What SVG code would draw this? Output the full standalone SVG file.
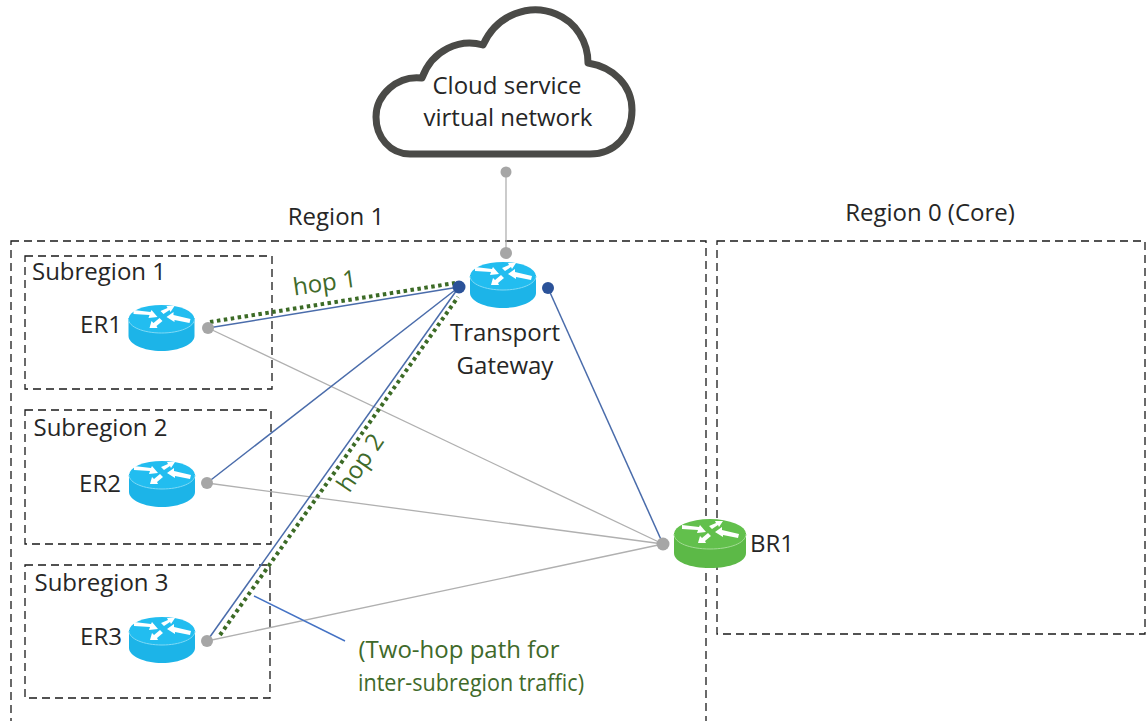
<svg xmlns="http://www.w3.org/2000/svg" width="1147" height="721" viewBox="0 0 1147 721">
<style>
text{font-family:"Open Sans","Noto Sans","Liberation Sans",sans-serif;font-size:24px;fill:#262626;text-anchor:middle}
.g{fill:#3f6a2a}
.box{fill:none;stroke:#1a1a1a;stroke-width:1.3;stroke-dasharray:8 5}
.gr{stroke:#b0b0b0;stroke-width:1.3;fill:none}
.bl{stroke:#4a6cab;stroke-width:1.5;fill:none}
.hop{stroke:#3c6b26;stroke-width:4;stroke-dasharray:3.5 3.500;fill:none}
.dg{fill:#a6a6a6}
.db{fill:#2b5299}
</style>
<defs>
<g id="arrows" fill="#fff">
<polygon points="-28,-9 -11,-7 -10,-9 -4,-2 -13,-1 -12,-4 -28,-5"/>
<polygon points="-1,-8 6,-11 5,-13 13,-13 9,-7 8,-9 2,-5"/>
<polygon points="5,-2 12,-7 12,-4 29,0 28,4 13,1 13,3"/>
<polygon points="-12,9 -10,2 -8,4 -2,-1 1,2 -5,7 -4,9"/>
</g>
<g id="router-blue">
<path d="M-33,13V31C-33,39 -18,46 0,46S33,39 33,31V13Z" fill="#1cb4e8"/>
<ellipse cx="0" cy="14" rx="33" ry="14" fill="#22bdf0"/>
<path d="M-33,14C-33,22 -18,28 0,28S33,22 33,14" fill="none" stroke="#7fd9f5" stroke-width="1"/>
<use href="#arrows" y="14"/>
</g>
<g id="router-green">
<path d="M-36,14V34C-36,43 -20,49 0,49S36,43 36,34V14Z" fill="#5cb947"/>
<ellipse cx="0" cy="15" rx="36" ry="15" fill="#62c04c"/>
<path d="M-36,15C-36,24 -20,30 0,30S36,24 36,15" fill="none" stroke="#a3dc94" stroke-width="1"/>
<use href="#arrows" y="15"/>
</g>
</defs>
<g id="regions">
<rect id="region-1" class="box" x="11" y="241" width="695" height="490"/>
<rect id="region-0" class="box" x="717" y="241" width="428" height="393"/>
<rect id="subregion-1" class="box" x="25" y="256" width="247" height="133"/>
<rect id="subregion-2" class="box" x="25" y="410" width="246" height="134"/>
<rect id="subregion-3" class="box" x="25" y="565" width="245" height="133"/>
<text x="336" y="225">Region 1</text>
<text x="930" y="221">Region 0 (Core)</text>
<text x="99" y="280">Subregion 1</text>
<text x="100.500" y="436">Subregion 2</text>
<text x="101.500" y="591">Subregion 3</text>
</g>
<g id="connectors">
<line class="gr" x1="506" y1="172" x2="506" y2="253"/>
<line class="gr" x1="208" y1="328" x2="663" y2="544"/>
<line class="gr" x1="207" y1="483" x2="663" y2="544"/>
<line class="gr" x1="207" y1="641" x2="663" y2="544"/>
<line class="bl" x1="208" y1="328" x2="459" y2="287"/>
<line class="bl" x1="207" y1="483" x2="459" y2="287"/>
<line class="bl" x1="207" y1="641" x2="459" y2="287"/>
<line class="bl" x1="548" y1="288" x2="663" y2="544"/>
<line class="hop" x1="210" y1="322" x2="455" y2="283"/>
<line class="hop" x1="220" y1="635" x2="458" y2="297"/>
<line x1="254" y1="596" x2="345" y2="641" stroke="#4472c4" stroke-width="1.4"/>
<circle class="dg" cx="506" cy="172" r="5.500"/>
<circle class="dg" cx="506" cy="253" r="6"/>
<circle class="dg" cx="208" cy="328" r="6"/>
<circle class="dg" cx="207" cy="483" r="6"/>
<circle class="dg" cx="207" cy="641" r="6"/>
<circle class="dg" cx="663" cy="544" r="6.500"/>
<circle class="db" cx="459" cy="287" r="6.500"/>
<circle class="db" cx="548" cy="288" r="6"/>
</g>
<g id="cloud">
<path d="M422,78C432,50 460,38 483,45C497,14 530,3 556,14C576,22 588,42 588,63C613,67 632,85 632,110C632,135 615,154 590,154H410C390,154 376,137 376,117C376,95 397,75 422,78Z" fill="#fff" stroke="#4a4a47" stroke-width="7" stroke-linejoin="round"/>
<text x="507" y="94">Cloud service</text>
<text x="508" y="126">virtual network</text>
</g>
<g id="er1"><use href="#router-blue" x="161.500" y="305"/><text x="101" y="333">ER1</text></g>
<g id="er2"><use href="#router-blue" x="162" y="461"/><text x="100" y="492">ER2</text></g>
<g id="er3"><use href="#router-blue" x="162" y="617"/><text x="101" y="645">ER3</text></g>
<g id="transport-gateway"><use href="#router-blue" x="503" y="262"/><text x="505" y="341">Transport</text><text x="505" y="374">Gateway</text></g>
<g id="br1"><use href="#router-green" x="710" y="519"/><text x="772" y="552">BR1</text></g>
<g id="labels">
<text class="g" x="325" y="291" transform="rotate(-8 325 285)">hop 1</text>
<text class="g" x="362" y="470" transform="rotate(-56 362 464)">hop 2</text>
<text class="g" x="459" y="658">(Two-hop path for</text>
<text class="g" x="471" y="691" textLength="226" lengthAdjust="spacingAndGlyphs">inter-subregion traffic)</text>
</g>
</svg>
